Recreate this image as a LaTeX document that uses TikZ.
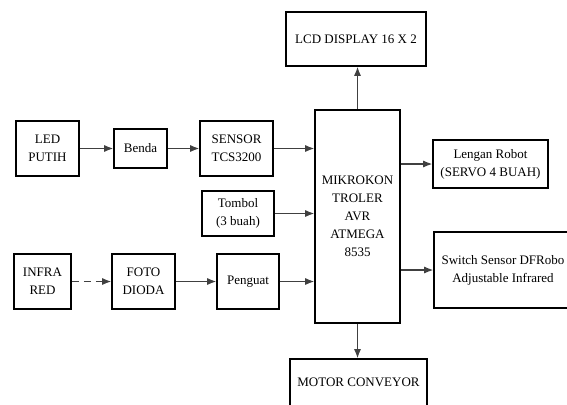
\documentclass[tikz,border=0pt]{standalone}
\usepackage{fontspec}
\setmainfont{Liberation Serif}
\usetikzlibrary{arrows.meta}
\begin{document}
\begin{tikzpicture}[x=1pt,y=-1pt,
  blk/.style={draw=black,line width=1.6pt,rectangle,inner sep=0pt,align=center,
    font=\fontsize{13}{18}\selectfont,fill=white},
  con/.style={draw=black!75,line width=1.1pt,-{Latex[length=9pt,width=7pt]}}]
\useasboundingbox (0,0) rectangle (567,404);
\clip (0,0) rectangle (567,404);
\node[blk,minimum width=140pt,minimum height=54pt] (lcd) at (356,39) {LCD DISPLAY 16 X 2};
\node[blk,minimum width=85pt,minimum height=213pt] (mcu) at (357.5,216.5) {MIKROKON\\TROLER\\AVR\\ATMEGA\\8535};
\node[blk,minimum width=115pt,minimum height=48pt] (arm) at (490.5,164) {Lengan Robot\\(SERVO 4 BUAH)};
\node[blk,minimum width=138pt,minimum height=76pt] (sw) at (503,270) {Switch Sensor DFRobo\\Adjustable Infrared};
\node[blk,minimum width=137pt,minimum height=47pt] (motor) at (358.5,382.5) {MOTOR CONVEYOR};
\node[blk,minimum width=63pt,minimum height=55pt] (led) at (47.5,148.5) {LED\\PUTIH};
\node[blk,minimum width=53pt,minimum height=39pt] (benda) at (140.5,148.5) {Benda};
\node[blk,minimum width=73pt,minimum height=55pt] (sensor) at (236.5,148.5) {SENSOR\\TCS3200};
\node[blk,minimum width=72pt,minimum height=45pt] (tombol) at (238,213.5) {Tombol\\(3 buah)};
\node[blk,minimum width=57pt,minimum height=55pt] (ir) at (42.5,281.5) {INFRA\\RED};
\node[blk,minimum width=63pt,minimum height=55pt] (foto) at (143.5,281.5) {FOTO\\DIODA};
\node[blk,minimum width=62pt,minimum height=55pt] (peng) at (248,281.5) {Penguat};
\draw[con] (led.east) -- (benda.west);
\draw[con] (benda.east) -- (sensor.west);
\draw[con] (sensor.east) -- (sensor.east -| mcu.west);
\draw[con] (tombol.east) -- (tombol.east -| mcu.west);
\draw[con,dash pattern=on 7pt off 5pt] (ir.east) -- (foto.west);
\draw[con] (foto.east) -- (peng.west);
\draw[con] (peng.east) -- (peng.east -| mcu.west);
\draw[con] (mcu.north) -- (mcu.north |- lcd.south);
\draw[con] (mcu.south) -- (mcu.south |- motor.north);
\draw[con] (arm.west -| mcu.east) -- (arm.west);
\draw[con] (sw.west -| mcu.east) -- (sw.west);
\end{tikzpicture}
\end{document}
